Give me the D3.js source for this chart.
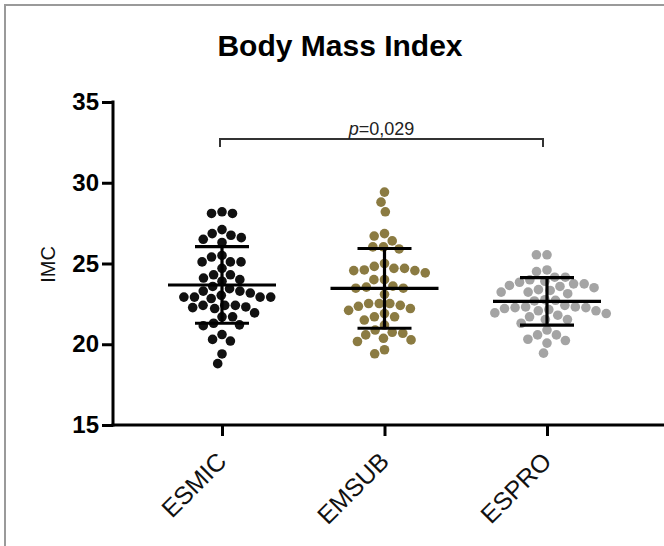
<!DOCTYPE html>
<html>
<head>
<meta charset="utf-8">
<script src="https://cdn.jsdelivr.net/npm/d3@7"></script>
<style>
  html, body { margin: 0; padding: 0; background: #fff; }
  svg { display: block; }
  text { font-family: "Liberation Sans", Arial, Helvetica, sans-serif; }
</style>
</head>
<body>
<svg id="chart" width="664" height="546"></svg>
<script>
// Body mass index per group (kg/m²)
const categories = ["ESMIC", "EMSUB", "ESPRO"];

const esmicValues = [28.1, 28.1, 28.2, 27.1, 26.75, 26.5, 26.3, 26.6, 26.85, 25.4, 25.1, 25.1,
  25.5, 25.1, 24.7, 24.3, 24.3, 24.1, 24.0, 23.9, 23.58, 23.44, 23.29, 23.29, 23.17, 22.92,
  22.92, 22.92, 22.83, 22.92, 23.03, 22.41, 22.31, 22.21, 22.41, 22.27, 22.41, 21.94, 21.7,
  21.7, 21.3, 21.15, 21.2, 20.6, 20.3, 20.2, 19.4, 18.8];

const emsubValues = [29.42, 28.8, 28.2, 26.85, 26.7, 26.4, 26.03, 25.9, 26.03, 25.0, 24.56,
  24.42, 24.7, 24.7, 24.56, 24.82, 24.6, 24.0, 24.0, 23.54, 23.47, 23.47, 23.6, 23.09, 22.52,
  22.52, 22.35, 22.41, 22.21, 22.52, 22.1, 21.7, 21.7, 21.9, 21.5, 21.19, 20.88, 20.74, 20.68,
  20.27, 20.17, 20.37, 20.58, 19.66, 19.41];

const esproValues = [25.54, 25.54, 24.6, 24.5, 24.15, 24.15, 23.9, 23.74, 23.58, 23.38, 23.23,
  23.13, 23.5, 23.74, 23.64, 23.84, 23.99, 23.33, 23.23, 22.72, 22.76, 22.68, 22.31, 22.41,
  22.27, 22.15, 22.21, 22.27, 22.31, 22.07, 22.07, 21.94, 21.9, 21.8, 21.7, 21.53, 21.53, 21.3,
  20.88, 20.58, 20.58, 20.31, 20.07, 20.23, 19.45];

// Mean ± SD drawn over each group
const groupMeans = [23.67, 23.46, 22.66];
const groupSDs = [2.37, 2.47, 1.47];

const yTicks = [15, 20, 25, 30, 35];
const groupColors = ["#111111", "#8b7b42", "#a4a4a4"];
const pValueText = "=0,029";

const groups = [esmicValues, emsubValues, esproValues];

const svg = d3.select("#chart");
const W = 664, H = 546;

// outer frame
svg.append("path")
  .attr("d", `M5,${H} L5,5 L${W},5`)
  .attr("fill", "none")
  .attr("stroke", "#9a9a9a")
  .attr("stroke-width", 2);

const y = d3.scaleLinear().domain([15, 35]).range([425, 102]);
const x = d3.scalePoint().domain(categories).range([222, 547]);
const axisX = 113;

// title
svg.append("text")
  .attr("x", 340).attr("y", 56)
  .attr("text-anchor", "middle")
  .attr("font-size", 30).attr("font-weight", "bold")
  .attr("fill", "#000")
  .text("Body Mass Index");

// y axis
const gy = svg.append("g")
  .attr("transform", `translate(${axisX},0)`)
  .call(d3.axisLeft(y).tickValues(yTicks).tickSize(11).tickSizeOuter(0).tickPadding(3));
gy.select(".domain").attr("stroke", "#000").attr("stroke-width", 3)
  .attr("d", `M0,${y(35) - 1.5}V${y(15) + 1.5}`);
gy.selectAll(".tick line").attr("stroke", "#000").attr("stroke-width", 3);
gy.selectAll(".tick text")
  .attr("font-size", 24).attr("font-weight", "bold").attr("fill", "#000")
  .attr("font-family", "Liberation Sans, Arial, sans-serif");

// y axis title
svg.append("text")
  .attr("transform", `translate(55,${y(25) + 1}) rotate(-90)`)
  .attr("text-anchor", "middle")
  .attr("font-size", 20)
  .attr("fill", "#111")
  .text("IMC");

// x axis
svg.append("line")
  .attr("x1", axisX - 1.5).attr("x2", W)
  .attr("y1", y(15)).attr("y2", y(15))
  .attr("stroke", "#000").attr("stroke-width", 3);
const gx = svg.append("g")
  .attr("transform", `translate(0,${y(15)})`)
  .call(d3.axisBottom(x).tickSize(11).tickSizeOuter(0).tickFormat(""));
gx.select(".domain").remove();
gx.selectAll(".tick line").attr("stroke", "#000").attr("stroke-width", 3);

// rotated category labels
svg.append("g").selectAll("text")
  .data(categories)
  .join("text")
  .attr("transform", d => `translate(${x(d) + 6},${y(15) + 38}) rotate(-45)`)
  .attr("text-anchor", "end")
  .attr("font-size", 25)
  .attr("fill", "#111")
  .text(d => d);

// beeswarm layout: each dot goes to the free offset closest to the group centre
const r = 4.8, gap = 10.6;
function swarm(values) {
  const placed = [];
  const order = values.map((v, i) => i).sort((a, b) => values[b] - values[a]);
  for (const i of order) {
    const py = y(values[i]);
    const blocked = [];
    for (const p of placed) {
      const dy = py - p.y;
      if (Math.abs(dy) < gap) {
        const dx = Math.sqrt(gap * gap - dy * dy);
        blocked.push([p.dx - dx, p.dx + dx]);
      }
    }
    const cands = [0];
    blocked.forEach(([a, b]) => { cands.push(a, b); });
    cands.sort((a, b) => Math.abs(a) - Math.abs(b) || a - b);
    let best = 0;
    for (const c of cands) {
      if (blocked.every(([a, b]) => c <= a + 1e-6 || c >= b - 1e-6)) { best = c; break; }
    }
    placed.push({ v: values[i], y: py, dx: best });
  }
  return placed;
}

groups.forEach((vals, gi) => {
  const cx = x(categories[gi]);
  const pts = swarm(vals);
  svg.append("g").selectAll("circle")
    .data(pts)
    .join("circle")
    .attr("cx", d => cx + d.dx)
    .attr("cy", d => y(d.v))
    .attr("r", r)
    .attr("fill", groupColors[gi]);
});

// mean and SD bars
const stats = svg.append("g").attr("stroke", "#000").attr("stroke-width", 3.2);
categories.forEach((c, i) => {
  const cx = x(c);
  const m = groupMeans[i], s = groupSDs[i];
  stats.append("line").attr("x1", cx - 54).attr("x2", cx + 54)
    .attr("y1", y(m)).attr("y2", y(m));
  stats.append("line").attr("x1", cx).attr("x2", cx)
    .attr("y1", y(m + s)).attr("y2", y(m - s));
  [m + s, m - s].forEach(v => {
    stats.append("line").attr("x1", cx - 27).attr("x2", cx + 27)
      .attr("y1", y(v)).attr("y2", y(v));
  });
});

// significance bracket ESMIC vs ESPRO
const bx1 = x(categories[0]) - 2, bx2 = x(categories[2]) - 4, by = 139;
svg.append("path")
  .attr("d", `M${bx1},${by + 8}V${by}H${bx2}V${by + 8}`)
  .attr("fill", "none").attr("stroke", "#333").attr("stroke-width", 2);
const pt = svg.append("text")
  .attr("x", (bx1 + bx2) / 2).attr("y", by - 4)
  .attr("text-anchor", "middle")
  .attr("font-size", 18)
  .attr("fill", "#222");
pt.append("tspan").attr("font-style", "italic").text("p");
pt.append("tspan").text(pValueText);
</script>
</body>
</html>
